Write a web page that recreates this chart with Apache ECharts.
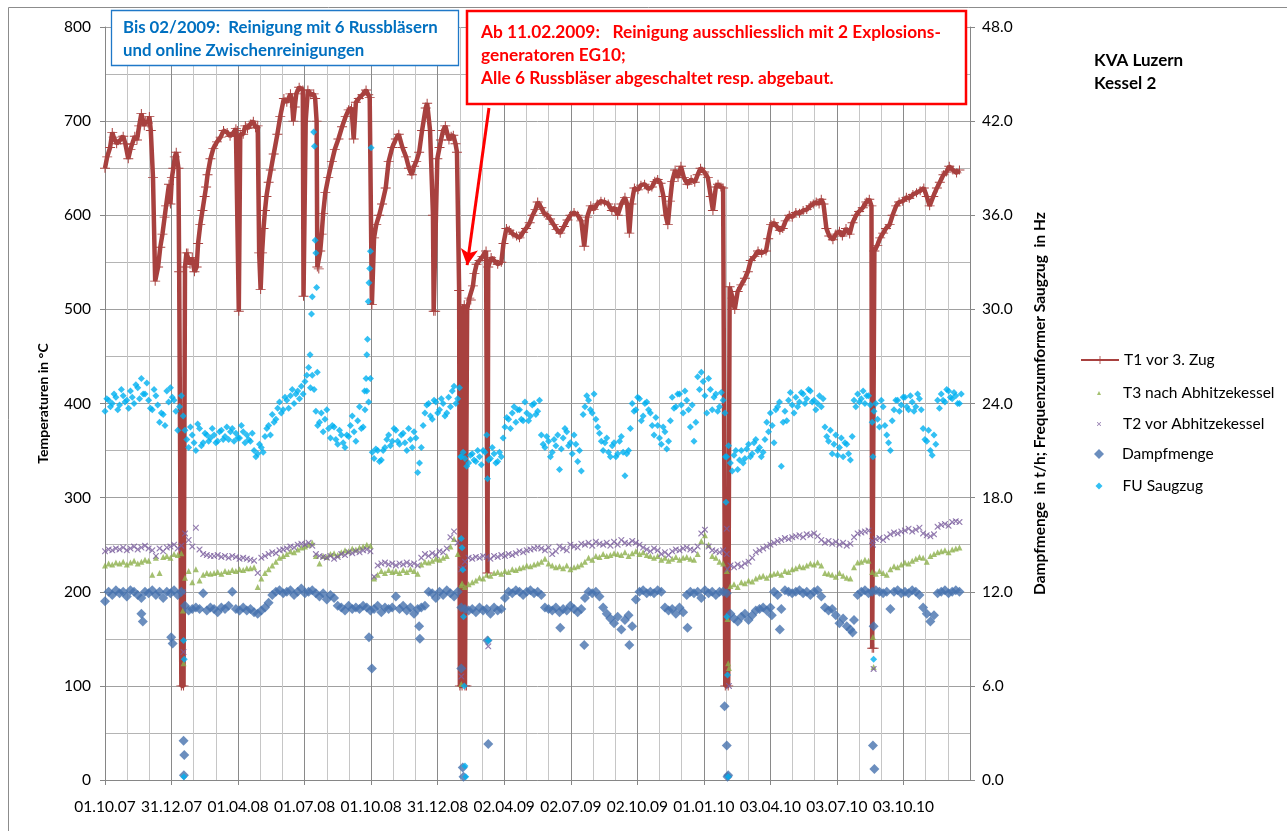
<!DOCTYPE html>
<html><head><meta charset="utf-8">
<script src="https://cdn.jsdelivr.net/npm/echarts@6/dist/echarts.min.js"></script>
<style>html,body{margin:0;padding:0;background:#fff}#c{width:1287px;height:831px}</style>
</head><body><div id="c"></div>
<script>
// x values are days after 01.10.2007
const xTickLabels = ['01.10.07','31.12.07','01.04.08','01.07.08','01.10.08','31.12.08','02.04.09','02.07.09','02.10.09','01.01.10','03.04.10','03.07.10','03.10.10'];
const X_INTERVAL = 91.5, X_MAX = 1189.5;
const SAMPLE_STEP = 5; // days between the regular samples of the point series

// T1 vor 3. Zug [day, °C]
const t1 = [[0,650],[3,662],[7,672],[10,688],[12,683],[16,676],[21,680],[25,684],[28,676],[32,660],[35,670],[37,675],[41,684],[44,680],[47,695],[50,708],[54,695],[56,700],[59,698],[61,705],[63,690],[66,640],[69,530],[73,545],[76,566],[79,580],[82,598],[84,610],[88,633],[90,612],[92,640],[94,650],[96,662],[98,667],[101,650],[102,540],[105,100],[108,100],[110,545],[112,560],[114,560],[117,548],[120,555],[123,540],[126,545],[128,570],[131,590],[134,605],[137,620],[139,630],[141,643],[145,660],[149,671],[154,678],[159,683],[163,690],[168,688],[172,684],[177,688],[180,692],[182,690],[184,498],[186,686],[190,686],[193,695],[196,692],[200,697],[204,700],[207,693],[210,695],[212,560],[214,521],[216,560],[218,586],[220,605],[222,620],[225,635],[228,648],[232,665],[237,686],[241,705],[246,724],[250,720],[255,729],[257,722],[259,700],[261,715],[263,729],[267,736],[272,733],[273,514],[276,700],[279,733],[283,728],[287,729],[289,724],[291,700],[292,545],[294,543],[296,562],[298,580],[300,602],[303,624],[307,640],[312,657],[316,670],[321,681],[326,694],[331,705],[335,712],[339,714],[342,681],[345,720],[349,724],[354,728],[359,733],[362,728],[364,725],[367,505],[370,576],[373,590],[377,600],[381,612],[386,629],[390,657],[395,672],[400,681],[404,686],[409,672],[414,662],[418,650],[422,643],[425,652],[428,657],[432,667],[436,690],[441,714],[443,719],[447,690],[451,600],[452,498],[454,498],[457,660],[460,672],[462,680],[465,690],[468,695],[471,686],[473,680],[476,684],[479,685],[482,676],[484,667],[487,520],[488,100],[491,100],[492,500],[494,505],[495,100],[497,100],[498,500],[501,512],[503,510],[506,525],[508,538],[511,548],[515,552],[519,556],[524,562],[526,220],[527,545],[531,555],[535,552],[540,548],[545,550],[548,570],[552,586],[556,584],[561,580],[566,578],[570,576],[575,582],[579,586],[584,592],[588,600],[592,606],[595,614],[600,608],[604,602],[608,600],[612,596],[617,590],[621,585],[626,581],[631,588],[636,595],[640,600],[645,603],[650,600],[655,594],[659,567],[663,598],[668,610],[672,606],[677,612],[682,615],[687,614],[692,612],[697,605],[701,608],[705,600],[710,612],[715,619],[718,612],[721,581],[724,612],[728,629],[733,627],[737,632],[742,633],[747,628],[752,630],[756,636],[760,638],[764,634],[768,620],[771,600],[774,590],[777,615],[780,636],[784,648],[788,640],[792,652],[796,640],[801,633],[806,638],[811,635],[815,643],[819,650],[824,646],[829,640],[833,620],[836,605],[840,630],[843,633],[847,630],[850,629],[853,100],[857,100],[859,524],[863,512],[866,500],[870,519],[875,526],[880,533],[884,540],[888,552],[893,556],[898,562],[903,560],[909,562],[912,575],[916,590],[920,592],[924,588],[928,584],[932,586],[936,594],[941,600],[945,598],[950,603],[955,602],[960,605],[965,606],[970,610],[974,612],[978,614],[982,612],[985,617],[988,612],[992,586],[996,578],[1001,574],[1005,580],[1010,583],[1014,578],[1019,586],[1024,580],[1028,592],[1033,600],[1037,604],[1042,608],[1047,614],[1051,617],[1054,610],[1055,140],[1057,140],[1058,562],[1062,568],[1066,576],[1070,581],[1074,586],[1079,590],[1083,600],[1088,610],[1092,614],[1097,615],[1102,619],[1106,618],[1111,622],[1116,624],[1121,626],[1126,629],[1130,620],[1134,610],[1139,620],[1144,629],[1148,635],[1153,643],[1157,646],[1161,652],[1166,648],[1171,645],[1175,648]];

// T3 nach Abhitzekessel, °C, one value every SAMPLE_STEP days
const t3 = [228,230,229,231,230,232,229,231,233,230, 232,234,233,218,236,220,237,238,236,240, 239,241,215,222,210,224,212,218,220,219, 220,221,219,222,221,223,222,224,223,225, 225,226,205,214,220,224,228,232,236,238, 240,243,242,245,247,248,250,252,238,230, 238,237,240,241,239,242,244,243,246,245, 247,248,250,249,214,218,222,220,223,221, 222,220,223,221,224,222,219,229,232,231, 233,235,234,236,238,248,256,240,207,205, 208,210,212,215,214,218,217,220,221,219, 222,221,224,223,225,226,228,227,229,230, 232,235,230,228,226,227,225,228,224,226, 227,229,232,236,234,238,237,240,238,239, 241,240,239,242,238,241,243,240,242,239, 238,236,238,234,236,233,235,237,234,236, 237,235,234,240,254,260,250,238,236,232, 230,222,206,208,205,210,209,212,211,214, 216,217,215,218,219,220,218,222,221,224, 225,227,226,228,230,229,231,228,220,219, 218,216,220,217,215,214,226,231,232,234, 233,221,219,222,220,218,224,227,226,229, 231,230,233,235,237,236,232,238,240,242, 243,244,242,245,246,247];
const t3Extra = [[107,180],[108,124],[490,102],[491,209],[527,150],[856,171],[857,124],[858,119],[1056,152],[1057,120]];

// T2 vor Abhitzekessel, °C
const t2 = [243,245,244,246,245,247,244,246,248,245, 247,249,246,244,238,246,243,247,248,250, 246,249,262,255,248,268,245,240,239,238, 238,239,237,238,236,238,237,235,236,235, 234,233,220,236,238,240,242,241,244,245, 246,248,247,250,251,250,252,249,240,238, 237,236,238,235,237,240,239,242,241,243, 242,244,245,243,216,228,230,231,229,230, 228,230,229,231,229,230,228,236,240,238, 241,239,243,242,246,258,264,252,224,232, 236,235,237,236,238,237,235,238,237,239, 238,240,239,241,243,242,244,245,246,247, 246,244,247,240,243,248,246,244,250,248, 247,251,250,252,249,253,251,250,252,249, 253,250,255,252,251,254,252,250,247,245, 243,246,244,240,242,239,243,245,244,246, 247,245,244,248,262,266,248,244,243,242, 244,240,228,226,229,227,230,232,236,242, 244,246,248,250,252,254,255,257,256,258, 259,260,258,261,260,262,259,255,252,254, 251,253,250,252,249,251,258,262,263,264, 265,254,256,257,255,258,261,263,262,264, 265,267,264,266,268,262,260,259,261,269, 271,272,270,274,275,274];
const t2Extra = [[107,200],[108,136],[490,110],[493,225],[527,142],[855,267],[856,224],[858,100],[1056,250],[1057,118]];

// Dampfmenge, t/h
const steam = [11.4,12.0,11.8,12.1,11.9,12.0,11.7,12.1,12.0,11.8, 11.6,12.0,11.9,12.1,11.8,12.0,11.6,12.0,11.9,12.1, 11.8,12.0,11.1,10.8,10.9,11.0,10.9,11.9,10.8,11.0, 10.9,10.7,11.0,10.9,11.1,12.0,10.9,10.8,11.0,10.8, 10.9,10.7,10.6,10.8,11.0,11.3,11.8,12.0,12.1,11.9, 12.0,12.1,11.8,12.0,12.2,11.9,12.0,12.1,11.9,11.7, 11.9,11.5,11.8,11.6,11.1,11.0,10.8,11.1,10.9,11.0, 10.9,11.1,11.0,10.8,10.9,11.1,10.7,11.0,10.9,11.0, 11.7,10.9,11.1,10.8,11.0,10.6,10.9,11.0,11.1,12.0, 11.9,11.6,12.0,11.8,12.1,11.9,11.7,12.0,11.0,10.9, 10.8,10.9,10.7,11.0,10.8,10.9,10.6,11.0,10.8,10.9, 11.6,12.0,11.9,12.1,12.0,11.8,12.0,12.1,11.9,12.0, 11.8,11.0,10.9,10.8,11.0,10.7,10.9,10.8,11.1,10.9, 10.7,10.9,11.6,12.0,11.9,12.0,11.7,11.0,10.6,10.3, 10.0,10.4,9.6,10.2,10.5,9.8,11.5,12.0,12.1,11.9, 12.0,11.9,12.1,12.0,11.0,10.8,10.9,10.6,11.0,10.7, 11.8,12.0,11.9,12.0,11.6,12.1,11.9,12.0,11.8,12.0, 12.0,11.9,10.6,10.3,10.1,10.4,10.6,10.2,10.5,10.8, 10.9,11.0,10.8,11.0,12.0,11.8,10.9,12.1,12.0,11.9, 12.0,12.1,11.9,12.0,11.8,12.0,12.1,11.7,11.0,10.8, 10.9,10.5,10.0,10.3,9.8,9.6,10.2,11.8,12.0,12.1, 11.9,12.0,12.1,12.0,11.9,12.0,10.9,12.0,12.1,11.9, 12.0,11.9,12.1,12.0,11.8,11.0,10.6,10.1,10.5,11.9, 12.0,12.1,11.9,12.0,12.1,12.0];
const steamExtra = [[50,10.6],[52,10.1],[91,9.1],[93,8.7],[108,2.5],[109,1.6],[108.5,0.3],[363,9.1],[367,7.1],[432,9.8],[433,9.0],[490,7.1],[492,0.8],[493,0.2],[526,8.9],[527,2.3],[626,9.7],[659,8.6],[721,8.6],[801,9.7],[852,4.7],[855,2.2],[856,0.2],[857,0.3],[917,10.5],[928,9.6],[1028,9.4],[1056,2.2],[1057,9.8],[1058,0.7]];

// FU Saugzug, Hz (two interleaved sample rows, offset by half a step)
const fan = [23.5,24.2,24.0,24.4,23.9,24.5,24.2,24.8,24.0,25.0, 25.6,24.6,24.2,23.6,24.5,22.8,23.3,24.8,25.0,24.2, 22.3,24.5,22.3,21.2,22.0,21.0,22.4,21.5,22.0,21.8, 22.0,21.6,22.3,21.9,21.7,22.4,22.1,21.8,22.2,22.0, 21.6,21.0,20.8,21.2,21.9,22.6,23.3,23.0,24.1,23.6, 24.2,24.5,24.0,24.8,25.1,25.4,26.3,25.8,23.5,22.8, 22.2,23.6,21.8,22.5,21.4,22.0,21.2,21.9,23.2,21.6, 23.8,22.5,24.8,25.6,20.5,21.0,20.4,21.2,22.0,21.6, 22.3,21.4,22.1,21.0,21.7,22.2,19.6,21.2,23.4,24.0, 23.0,24.1,23.6,24.0,23.4,23.8,25.1,24.3,20.6,20.5, 20.2,20.8,20.3,20.6,21.0,22.0,20.5,20.8,20.3,20.6, 22.5,23.0,23.4,22.8,23.6,22.9,23.4,23.2,24.0,23.5, 22.0,21.2,21.6,20.9,21.3,19.8,21.8,22.2,21.5,22.0, 20.3,19.7,23.8,24.2,23.4,23.0,22.1,21.0,21.8,20.6, 21.5,20.8,21.9,19.4,21.0,24.0,23.6,24.3,23.2,24.1, 23.4,22.0,22.6,21.4,22.2,21.6,24.4,23.8,24.6,23.4, 24.2,22.5,21.6,25.7,26.0,24.5,25.6,23.6,24.6,23.8, 24.2,20.6,20.2,20.7,19.8,21.0,20.5,21.4,20.8,21.7, 21.2,20.9,22.8,23.4,21.5,23.8,20.0,23.5,24.2,23.9, 24.4,24.1,24.6,24.3,24.8,24.2,24.0,23.8,22.5,21.6, 20.8,22.0,21.2,20.6,21.4,20.4,24.2,24.6,24.3,24.0, 24.5,22.8,24.0,22.5,23.8,22.0,21.0,23.6,24.2,23.9, 24.4,23.6,24.1,23.8,24.3,22.4,21.6,21.0,22.0,24.2, 24.6,24.1,24.8,24.3,24.5,24.0];
const fanMid = [24.3,23.8,24.6,23.6,24.9,24.1,23.7,24.4,25.2,24.3, 24.6,25.3,23.7,24.9,23.9,23.4,22.6,24.1,24.4,23.5, 23.8,23.2,21.7,22.5,21.5,22.7,21.3,22.1,21.6,22.4, 21.5,22.2,21.7,22.5,22.2,21.6,21.8,22.6,21.5,21.7, 22.1,20.6,21.4,20.9,22.4,22.0,22.8,23.7,23.4,24.4, 23.7,24.9,24.6,24.3,24.6,25.8,25.0,24.9,22.6,23.4, 23.0,22.4,22.6,21.7,22.3,21.5,22.0,22.6,22.2,22.9, 22.4,23.6,24.1,20.9,21.1,20.3,21.0,21.7,21.3,22.4, 21.6,22.0,21.5,22.4,21.2,21.8,20.2,22.6,23.9,23.2, 24.2,23.4,24.3,23.2,24.4,24.8,24.0,25.0,20.9,20.0, 20.7,20.4,21.0,20.1,20.9,20.4,21.2,20.2,20.9,21.8, 23.1,22.4,23.8,23.6,23.0,24.1,22.9,23.9,23.3,24.2, 21.4,21.9,20.6,21.7,22.0,21.1,22.4,21.3,20.8,21.4, 21.0,23.3,24.5,23.6,24.6,22.5,21.6,21.5,20.9,21.3, 20.6,21.6,20.9,20.8,22.4,23.5,24.4,22.9,24.0,23.6, 22.6,23.1,21.8,22.5,21.1,22.9,23.7,24.6,23.9,24.8, 23.6,23.9,22.8,24.9,25.4,23.4,24.9,24.4,23.5,24.7, 23.4,21.3,19.7,21.0,20.4,20.2,21.1,20.6,21.5,21.0, 20.6,21.7,22.2,22.6,23.6,24.1,22.8,22.9,24.7,23.4, 23.8,24.7,24.0,24.9,24.1,23.6,24.5,24.3,21.9,22.3, 21.4,20.7,21.8,21.5,20.8,21.9,23.8,24.1,24.8,24.5, 23.9,23.5,23.0,24.2,22.6,21.5,22.9,24.2,23.5,24.4, 23.8,24.5,23.5,24.6,23.6,21.7,22.3,20.7,21.4,23.7, 24.2,24.9,24.4,24.7,24.0,24.6];
const fanExtra = [[108,8.9],[109,7.7],[108.5,0.2],[282,27.1],[284,29.7],[285,30.8],[287,41.3],[288,40.4],[289,34.4],[290,33.6],[291,31.4],[292,26.0],[357,24.8],[359,25.6],[360,27.1],[361,28.1],[362,30.5],[363,31.7],[364,32.6],[365,33.7],[366,40.3],[489,20.6],[490,15.4],[491,14.8],[492,13.4],[493,10.4],[494,6.0],[495,0.9],[496,0.2],[526,19.2],[527,8.9],[853,20.6],[854,17.7],[855,10.4],[856,6.7],[857,0.2],[1056,20.6],[1057,7.7]];

const names = ['T1 vor 3. Zug','T3 nach Abhitzekessel','T2 vor Abhitzekessel','Dampfmenge','FU Saugzug'];
const colors = ['#A8413F','#8DB04C','#7A5E9E','#4672AE','#00B0F0'];
const annoBlue = 'Bis 02/2009:  Reinigung mit 6 Russbläsern\nund online Zwischenreinigungen';
const annoRed = 'Ab 11.02.2009:   Reinigung ausschliesslich mit 2 Explosions-\ngeneratoren EG10;\nAlle 6 Russbläser abgeschaltet resp. abgebaut.';
const arrowFrom = [528, 714], arrowTo = [498, 547];

function onGrid(vals, offset){
  return vals.map((v,i)=>[i*SAMPLE_STEP + offset, v]);
}
const FONT = 'Lato';
const plusPath = 'path://M4.5,0h1v4.5h4.5v1h-4.5v4.5h-1v-4.5h-4.5v-1h4.5z';
const xPath = 'path://M0,0h1.4l3.6,3.6l3.6,-3.6h1.4v1.4l-3.6,3.6l3.6,3.6v1.4h-1.4l-3.6,-3.6l-3.6,3.6h-1.4v-1.4l3.6,-3.6l-3.6,-3.6z';

const chart = echarts.init(document.getElementById('c'), null, {renderer:'canvas'});
function leg(top, w, h, pad, name){
  return {orient:'vertical', left:1094 - w/2, top:top, itemWidth:w, itemHeight:h, selectedMode:false, data:[name],
    textStyle:{fontFamily:FONT, fontSize:15.5, color:'#000', padding:[0,0,0,pad]}};
}
chart.setOption({
  animation:false,
  backgroundColor:'#fff',
  grid:{left:105, right:317, top:27, bottom:51, containLabel:false},
  xAxis:{type:'value', min:0, max:X_MAX, interval:X_INTERVAL,
    axisLine:{show:true, lineStyle:{color:'#868686', width:1}},
    axisTick:{show:true, length:5, lineStyle:{color:'#868686'}},
    axisLabel:{margin:19, fontFamily:FONT, fontSize:15.5, color:'#000', showMaxLabel:false,
      formatter:v=>xTickLabels[Math.round(v/X_INTERVAL)] || ''},
    splitLine:{show:true, lineStyle:{color:'#8a8a8a', width:1}},
    minorTick:{show:false, splitNumber:3},
    minorSplitLine:{show:true, lineStyle:{color:'#c6c6c6', width:1}}
  },
  yAxis:[
    {type:'value', min:0, max:800, interval:100, position:'left',
      name:'Temperaturen in °C', nameLocation:'middle', nameGap:55, nameRotate:90,
      nameTextStyle:{fontFamily:FONT, fontSize:14, fontWeight:'bold', color:'#000'},
      axisLine:{show:true, lineStyle:{color:'#868686'}},
      axisTick:{show:true, length:5, lineStyle:{color:'#868686'}},
      axisLabel:{margin:14, fontFamily:FONT, fontSize:15.5, color:'#000'},
      splitLine:{show:true, lineStyle:{color:'#a0a0a0'}},
      minorTick:{show:false, splitNumber:2},
      minorSplitLine:{show:true, lineStyle:{color:'#b4b4b4'}}
    },
    {type:'value', min:0, max:48, interval:6, position:'right',
      name:'Dampfmenge  in t/h; Frequenzumformer Saugzug  in Hz', nameLocation:'middle', nameGap:62, nameRotate:90,
      nameTextStyle:{fontFamily:FONT, fontSize:15.5, fontWeight:'bold', color:'#000'},
      axisLine:{show:true, lineStyle:{color:'#868686'}},
      axisTick:{show:true, length:5, lineStyle:{color:'#868686'}},
      axisLabel:{margin:12, fontFamily:FONT, fontSize:15.5, color:'#000', formatter:v=>v.toFixed(1)},
      splitLine:{show:false}
    }
  ],
  legend:[
    leg(347, 38, 10, 0, names[0]),
    leg(380, 4, 4, 17, names[1]),
    leg(411, 4, 4, 17, names[2]),
    leg(441, 10, 10, 13, names[3]),
    leg(473, 7, 7, 15, names[4])
  ],
  series:[
    {name:names[0], type:'line', yAxisIndex:0, data:t1, symbol:plusPath, symbolSize:[10,9], showAllSymbol:true,
      lineStyle:{color:colors[0], width:4.5}, itemStyle:{color:colors[0]}, z:2,
      markLine:{silent:true, symbol:['none','arrow'], symbolSize:[13,16], label:{show:false},
        lineStyle:{color:'#FF0000', width:3, type:'solid'},
        data:[[{coord:arrowFrom},{coord:arrowTo}]]}},
    {name:names[1], type:'scatter', yAxisIndex:0, data:onGrid(t3,0).concat(t3Extra), symbol:'triangle', symbolSize:6, itemStyle:{color:colors[1]}, z:3},
    {name:names[2], type:'scatter', yAxisIndex:0, data:onGrid(t2,0).concat(t2Extra), symbol:xPath, symbolSize:6, itemStyle:{color:colors[2]}, z:3},
    {name:names[3], type:'scatter', yAxisIndex:1, data:onGrid(steam,0).concat(steamExtra), symbol:'diamond', symbolSize:10, itemStyle:{color:colors[3]}, z:3},
    {name:names[4], type:'scatter', yAxisIndex:1, data:onGrid(fan,0).concat(onGrid(fanMid,SAMPLE_STEP/2), fanExtra), symbol:'diamond', symbolSize:7, itemStyle:{color:colors[4]}, z:3}
  ],
  graphic:[
    {type:'rect', z:10, shape:{x:8.5, y:7.5, width:1300, height:840}, style:{fill:'none', stroke:'#8c8c8c', lineWidth:1}},
    {type:'rect', z:10, shape:{x:111.5, y:10.5, width:347, height:55}, style:{fill:'#fff', stroke:'#1F78C8', lineWidth:1.3}},
    {type:'text', z:11, x:123, y:39, style:{text:annoBlue, fontFamily:FONT, fontSize:16.8, fontWeight:'bold', fill:'#0070C0', lineHeight:23, verticalAlign:'middle'}},
    {type:'rect', z:10, shape:{x:467, y:11, width:499, height:93}, style:{fill:'#fff', stroke:'#FF0000', lineWidth:2.5}},
    {type:'text', z:11, x:481, y:55, style:{text:annoRed, fontFamily:FONT, fontSize:17.3, fontWeight:'bold', fill:'#FF0000', lineHeight:23, verticalAlign:'middle'}},
    {type:'text', z:11, x:1094, y:72, style:{text:'KVA Luzern\nKessel 2', fontFamily:FONT, fontSize:17, fontWeight:'bold', fill:'#000', lineHeight:23, verticalAlign:'middle'}}
  ]
});
</script></body></html>
